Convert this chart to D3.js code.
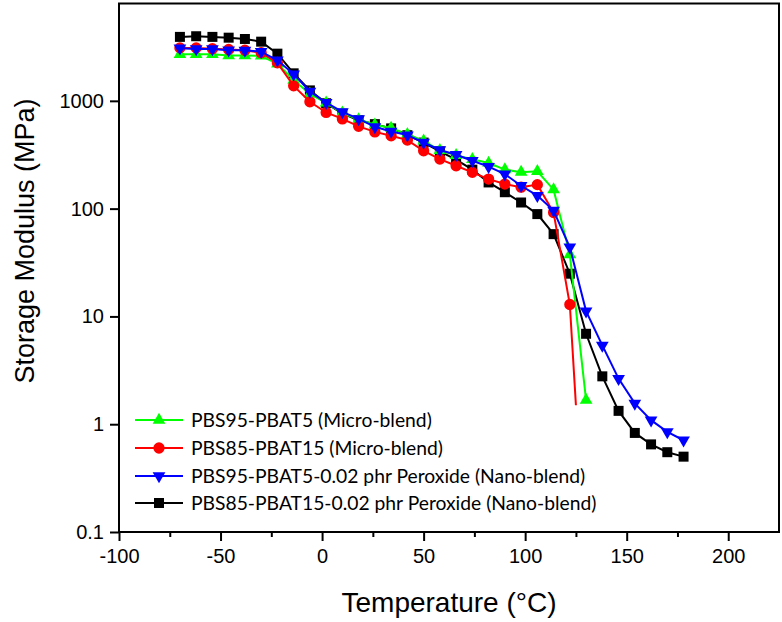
<!DOCTYPE html>
<html>
<head>
<meta charset="utf-8">
<script src="https://cdn.jsdelivr.net/npm/d3@7"></script>
<style>
body { margin: 0; background: #fff; }
svg { display: block; }
.axis text { font-family: "Liberation Sans", Arial, sans-serif; font-size: 20px; fill: #000; }
.axis path, .axis line { stroke: #000; stroke-width: 2; }
.legend text { font-family: Lato, sans-serif; font-size: 19.3px; }
</style>
</head>
<body>
<div id="chart"></div>
<script>
// temperatures (degC) and storage modulus (MPa)
var tempGreen = [-70,-62,-54,-46,-38,-30,-22,-14,-6,2,10,18,26,34,42,50,58,66,74,82,90,98,106,114,122,130]
var modGreen  = [2700,2700,2700,2630,2630,2620,2200,1560,1160,958,774,671,600,560,490,426,348,312,287,265,230,218,222,150,37.5,1.67]

var tempRed = [-70,-62,-54,-46,-38,-30,-22,-14,-6,2,10,18,26,34,42,50,58,66,74,82,90,98,106,114,122,125]
var modRed  = [3100,3100,3050,3000,2950,2800,2250,1377,979,780,680,580,515,474,432,344,288,250,217,188,169,158,167,92,12.9,1.5]

var tempBlue = [-70,-62,-54,-46,-38,-30,-22,-14,-6,2,10,18,26,34,42,50,58,66,74,82,90,98,106,114,122,130,138,146,154,162,170,178]
var modBlue  = [3080,3030,3030,2950,2940,2860,2380,1770,1220,964,791,681,574,520,481,411,350,316,278,245,209,163,132,96,43.8,11.2,5.38,2.65,1.56,1.09,0.85,0.71]

var tempBlack = [-70,-62,-54,-46,-38,-30,-22,-14,-6,2,10,18,26,34,42,50,58,66,74,82,90,98,106,114,122,130,138,146,154,162,170,178]
var modBlack  = [3920,3975,3920,3855,3750,3540,2740,1800,1250,950,760,660,608,555,480,410,340,285,230,175,142,114,89,58,24.9,6.9,2.78,1.33,0.83,0.65,0.55,0.50]

var xTicks = [-100,-50,0,50,100,150,200]
var xMinor = [-75,-25,25,75,125,175]
var yTicks = [0.1,1,10,100,1000]

var names = ["PBS95-PBAT5 (Micro-blend)",
             "PBS85-PBAT15 (Micro-blend)",
             "PBS95-PBAT5-0.02 phr Peroxide (Nano-blend)",
             "PBS85-PBAT15-0.02 phr Peroxide (Nano-blend)"]

var zip = function(t, v){ return t.map(function(d, i){ return {t: d, v: v[i]} }) }

var series = [
    {name: names[0], color: "#00ff00", shape: "up",     data: zip(tempGreen, modGreen), unmarked: 0},
    {name: names[1], color: "#ff0000", shape: "circle", data: zip(tempRed, modRed), unmarked: 1},
    {name: names[2], color: "#0000ff", shape: "down",   data: zip(tempBlue, modBlue), unmarked: 0},
    {name: names[3], color: "#000000", shape: "square", data: zip(tempBlack, modBlack), unmarked: 0}
]
// drawing order: black underneath, blue on top
var drawOrder = [3, 0, 1, 2]

var W = 782, H = 622
var margin = {top: 3.5, right: 3, bottom: 90, left: 119}
var width = W - margin.left - margin.right,
    height = H - margin.top - margin.bottom

var x = d3.scaleLinear().domain([-100, 225]).range([0, width])
var y = d3.scaleLog().domain([0.1, 8000]).range([height, 0])

var svg = d3.select("#chart").append("svg")
    .attr("width", W)
    .attr("height", H)

var g = svg.append("g")
    .attr("transform", "translate(" + margin.left + "," + margin.top + ")")

var symbolPath = function(shape){
    if (shape == "square") return d3.symbol().type(d3.symbolSquare).size(100)()
    if (shape == "circle") return d3.symbol().type(d3.symbolCircle).size(100)()
    return d3.symbol().type(d3.symbolTriangle).size(70)()
}

var line = d3.line()
    .x(function(d){ return x(d.t) })
    .y(function(d){ return y(d.v) })

drawOrder.forEach(function(i){
    var s = series[i]
    g.append("path")
        .datum(s.data)
        .attr("fill", "none")
        .attr("stroke", s.color)
        .attr("stroke-width", 2)
        .attr("d", line)

    g.selectAll(".mk" + i)
        .data(s.data.slice(0, s.data.length - s.unmarked))
        .enter().append("path")
        .attr("class", "mk" + i)
        .attr("fill", s.color)
        .attr("d", symbolPath(s.shape))
        .attr("transform", function(d){
            return "translate(" + x(d.t) + "," + y(d.v) + ")" + (s.shape == "down" ? " rotate(180)" : "")
        })
})

// frame
g.append("rect")
    .attr("width", width)
    .attr("height", height)
    .attr("fill", "none")
    .attr("stroke", "#000")
    .attr("stroke-width", 2)

g.append("g")
    .attr("class", "axis")
    .attr("transform", "translate(0," + height + ")")
    .call(d3.axisBottom(x).tickValues(xMinor).tickSize(5).tickSizeOuter(0).tickFormat(""))

g.append("g")
    .attr("class", "axis")
    .attr("transform", "translate(0," + height + ")")
    .call(d3.axisBottom(x).tickValues(xTicks).tickSize(9).tickSizeOuter(0).tickPadding(8)
        .tickFormat(function(d){ return String(d) }))

g.append("g")
    .attr("class", "axis")
    .call(d3.axisLeft(y).tickValues(yTicks).tickSize(9).tickSizeOuter(0).tickPadding(6)
        .tickFormat(function(d){ return String(d) }))

g.selectAll(".axis .domain").remove()

svg.append("text")
    .attr("x", margin.left + width / 2)
    .attr("y", 612)
    .attr("text-anchor", "middle")
    .style("font-family", "Liberation Sans, Arial, sans-serif")
    .style("font-size", "28px")
    .text("Temperature (°C)")

svg.append("text")
    .attr("transform", "translate(34,241) rotate(-90)")
    .attr("text-anchor", "middle")
    .style("font-family", "Liberation Sans, Arial, sans-serif")
    .style("font-size", "27px")
    .text("Storage Modulus (MPa)")

// legend
var legendY = [420, 448, 476, 503]
var leg = svg.append("g").attr("class", "legend")
series.forEach(function(s, i){
    var row = leg.append("g").attr("transform", "translate(0," + legendY[i] + ")")
    row.append("line")
        .attr("x1", 135).attr("x2", 183)
        .attr("stroke", s.color).attr("stroke-width", 2)
    row.append("path")
        .attr("fill", s.color)
        .attr("d", symbolPath(s.shape))
        .attr("transform", "translate(159,0)" + (s.shape == "down" ? " rotate(180)" : ""))
    row.append("text")
        .attr("x", 191)
        .attr("dy", "0.35em")
        .text(s.name)
})
</script>
</body>
</html>
